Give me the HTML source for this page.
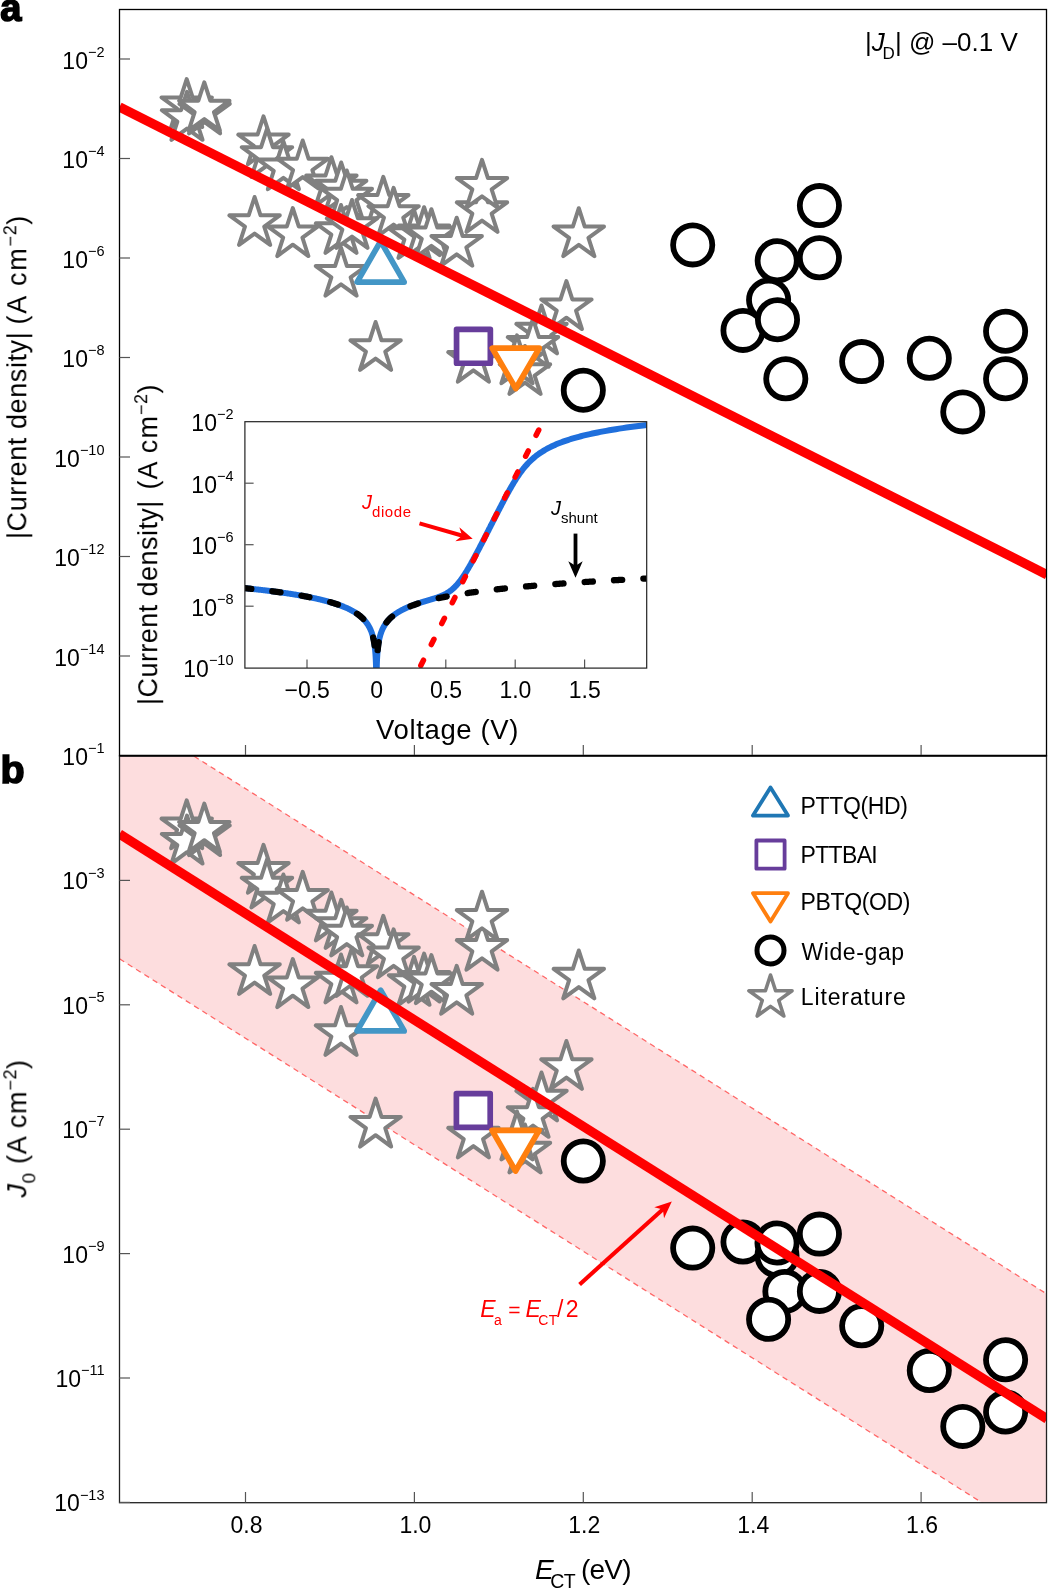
<!DOCTYPE html>
<html><head><meta charset="utf-8"><style>
html,body{margin:0;padding:0;background:#fff;width:1048px;height:1589px;overflow:hidden;}
body{position:relative;font-family:"Liberation Sans", sans-serif;-webkit-font-smoothing:antialiased;}
text{filter:url(#gf);}
</style></head><body>
<svg width="1048" height="1589" viewBox="0 0 1048 1589" style="position:absolute;left:0;top:0;font-family:'Liberation Sans', sans-serif">
<defs><filter id="gf" x="-5%" y="-20%" width="110%" height="140%"><feOffset dx="0" dy="0"/></filter><clipPath id="ca"><rect x="119.5" y="9" width="927.5" height="747"/></clipPath><clipPath id="cb"><rect x="119.5" y="756" width="927.5" height="746.5"/></clipPath><clipPath id="ci"><rect x="245" y="421.7" width="401.7" height="246.4"/></clipPath></defs>
<g clip-path="url(#cb)">
<path d="M119.5,709.20 L1046.6,1293.83 L1046.6,1543.43 L119.5,958.80 Z" fill="#fdddde"/>
<path d="M119.5,709.20 L1046.6,1293.83 M119.5,958.80 L1046.6,1543.43" stroke="#ff6666" stroke-width="1.3" stroke-dasharray="5.5 4.3" fill="none"/>
</g>
<g clip-path="url(#ca)">
<path d="M186.70,79.10 L192.65,97.41 L211.90,97.41 L196.33,108.73 L202.28,127.04 L186.70,115.72 L171.12,127.04 L177.07,108.73 L161.50,97.41 L180.75,97.41 Z" fill="#fff" stroke="#808080" stroke-width="4.0" stroke-linejoin="round"/>
<path d="M187.00,91.90 L192.95,110.21 L212.20,110.21 L196.63,121.53 L202.58,139.84 L187.00,128.52 L171.42,139.84 L177.37,121.53 L161.80,110.21 L181.05,110.21 Z" fill="#fff" stroke="#808080" stroke-width="4.0" stroke-linejoin="round"/>
<path d="M204.60,85.50 L210.55,103.81 L229.80,103.81 L214.23,115.13 L220.18,133.44 L204.60,122.12 L189.02,133.44 L194.97,115.13 L179.40,103.81 L198.65,103.81 Z" fill="#fff" stroke="#808080" stroke-width="4.0" stroke-linejoin="round"/>
<path d="M204.30,82.40 L210.25,100.71 L229.50,100.71 L213.93,112.03 L219.88,130.34 L204.30,119.02 L188.72,130.34 L194.67,112.03 L179.10,100.71 L198.35,100.71 Z" fill="#fff" stroke="#808080" stroke-width="4.0" stroke-linejoin="round"/>
<path d="M263.50,116.30 L269.45,134.61 L288.70,134.61 L273.13,145.93 L279.08,164.24 L263.50,152.92 L247.92,164.24 L253.87,145.93 L238.30,134.61 L257.55,134.61 Z" fill="#fff" stroke="#808080" stroke-width="4.0" stroke-linejoin="round"/>
<path d="M267.00,128.90 L272.95,147.21 L292.20,147.21 L276.63,158.53 L282.58,176.84 L267.00,165.52 L251.42,176.84 L257.37,158.53 L241.80,147.21 L261.05,147.21 Z" fill="#fff" stroke="#808080" stroke-width="4.0" stroke-linejoin="round"/>
<path d="M283.40,141.30 L289.35,159.61 L308.60,159.61 L293.03,170.93 L298.98,189.24 L283.40,177.92 L267.82,189.24 L273.77,170.93 L258.20,159.61 L277.45,159.61 Z" fill="#fff" stroke="#808080" stroke-width="4.0" stroke-linejoin="round"/>
<path d="M302.70,140.50 L308.65,158.81 L327.90,158.81 L312.33,170.13 L318.28,188.44 L302.70,177.12 L287.12,188.44 L293.07,170.13 L277.50,158.81 L296.75,158.81 Z" fill="#fff" stroke="#808080" stroke-width="4.0" stroke-linejoin="round"/>
<path d="M331.40,157.20 L337.35,175.51 L356.60,175.51 L341.03,186.83 L346.98,205.14 L331.40,193.82 L315.82,205.14 L321.77,186.83 L306.20,175.51 L325.45,175.51 Z" fill="#fff" stroke="#808080" stroke-width="4.0" stroke-linejoin="round"/>
<path d="M341.20,162.50 L347.15,180.81 L366.40,180.81 L350.83,192.13 L356.78,210.44 L341.20,199.12 L325.62,210.44 L331.57,192.13 L316.00,180.81 L335.25,180.81 Z" fill="#fff" stroke="#808080" stroke-width="4.0" stroke-linejoin="round"/>
<path d="M346.80,170.50 L352.75,188.81 L372.00,188.81 L356.43,200.13 L362.38,218.44 L346.80,207.12 L331.22,218.44 L337.17,200.13 L321.60,188.81 L340.85,188.81 Z" fill="#fff" stroke="#808080" stroke-width="4.0" stroke-linejoin="round"/>
<path d="M383.30,176.80 L389.25,195.11 L408.50,195.11 L392.93,206.43 L398.88,224.74 L383.30,213.42 L367.72,224.74 L373.67,206.43 L358.10,195.11 L377.35,195.11 Z" fill="#fff" stroke="#808080" stroke-width="4.0" stroke-linejoin="round"/>
<path d="M393.60,187.90 L399.55,206.21 L418.80,206.21 L403.23,217.53 L409.18,235.84 L393.60,224.52 L378.02,235.84 L383.97,217.53 L368.40,206.21 L387.65,206.21 Z" fill="#fff" stroke="#808080" stroke-width="4.0" stroke-linejoin="round"/>
<path d="M414.00,210.00 L419.95,228.31 L439.20,228.31 L423.63,239.63 L429.58,257.94 L414.00,246.62 L398.42,257.94 L404.37,239.63 L388.80,228.31 L408.05,228.31 Z" fill="#fff" stroke="#808080" stroke-width="4.0" stroke-linejoin="round"/>
<path d="M424.10,207.20 L430.05,225.51 L449.30,225.51 L433.73,236.83 L439.68,255.14 L424.10,243.82 L408.52,255.14 L414.47,236.83 L398.90,225.51 L418.15,225.51 Z" fill="#fff" stroke="#808080" stroke-width="4.0" stroke-linejoin="round"/>
<path d="M431.40,209.20 L437.35,227.51 L456.60,227.51 L441.03,238.83 L446.98,257.14 L431.40,245.82 L415.82,257.14 L421.77,238.83 L406.20,227.51 L425.45,227.51 Z" fill="#fff" stroke="#808080" stroke-width="4.0" stroke-linejoin="round"/>
<path d="M456.70,217.70 L462.65,236.01 L481.90,236.01 L466.33,247.33 L472.28,265.64 L456.70,254.32 L441.12,265.64 L447.07,247.33 L431.50,236.01 L450.75,236.01 Z" fill="#fff" stroke="#808080" stroke-width="4.0" stroke-linejoin="round"/>
<path d="M341.00,205.00 L346.95,223.31 L366.20,223.31 L350.63,234.63 L356.58,252.94 L341.00,241.62 L325.42,252.94 L331.37,234.63 L315.80,223.31 L335.05,223.31 Z" fill="#fff" stroke="#808080" stroke-width="4.0" stroke-linejoin="round"/>
<path d="M352.00,200.00 L357.95,218.31 L377.20,218.31 L361.63,229.63 L367.58,247.94 L352.00,236.62 L336.42,247.94 L342.37,229.63 L326.80,218.31 L346.05,218.31 Z" fill="#fff" stroke="#808080" stroke-width="4.0" stroke-linejoin="round"/>
<path d="M254.60,197.00 L260.55,215.31 L279.80,215.31 L264.23,226.63 L270.18,244.94 L254.60,233.62 L239.02,244.94 L244.97,226.63 L229.40,215.31 L248.65,215.31 Z" fill="#fff" stroke="#808080" stroke-width="4.0" stroke-linejoin="round"/>
<path d="M292.80,208.10 L298.75,226.41 L318.00,226.41 L302.43,237.73 L308.38,256.04 L292.80,244.72 L277.22,256.04 L283.17,237.73 L267.60,226.41 L286.85,226.41 Z" fill="#fff" stroke="#808080" stroke-width="4.0" stroke-linejoin="round"/>
<path d="M341.00,247.70 L346.95,266.01 L366.20,266.01 L350.63,277.33 L356.58,295.64 L341.00,284.32 L325.42,295.64 L331.37,277.33 L315.80,266.01 L335.05,266.01 Z" fill="#fff" stroke="#808080" stroke-width="4.0" stroke-linejoin="round"/>
<path d="M375.60,322.00 L381.55,340.31 L400.80,340.31 L385.23,351.63 L391.18,369.94 L375.60,358.62 L360.02,369.94 L365.97,351.63 L350.40,340.31 L369.65,340.31 Z" fill="#fff" stroke="#808080" stroke-width="4.0" stroke-linejoin="round"/>
<path d="M482.00,184.00 L487.95,202.31 L507.20,202.31 L491.63,213.63 L497.58,231.94 L482.00,220.62 L466.42,231.94 L472.37,213.63 L456.80,202.31 L476.05,202.31 Z" fill="#fff" stroke="#808080" stroke-width="4.0" stroke-linejoin="round"/>
<path d="M482.00,159.80 L487.95,178.11 L507.20,178.11 L491.63,189.43 L497.58,207.74 L482.00,196.42 L466.42,207.74 L472.37,189.43 L456.80,178.11 L476.05,178.11 Z" fill="#fff" stroke="#808080" stroke-width="4.0" stroke-linejoin="round"/>
<path d="M578.80,208.20 L584.75,226.51 L604.00,226.51 L588.43,237.83 L594.38,256.14 L578.80,244.82 L563.22,256.14 L569.17,237.83 L553.60,226.51 L572.85,226.51 Z" fill="#fff" stroke="#808080" stroke-width="4.0" stroke-linejoin="round"/>
<path d="M566.40,281.10 L572.35,299.41 L591.60,299.41 L576.03,310.73 L581.98,329.04 L566.40,317.72 L550.82,329.04 L556.77,310.73 L541.20,299.41 L560.45,299.41 Z" fill="#fff" stroke="#808080" stroke-width="4.0" stroke-linejoin="round"/>
<path d="M541.50,305.50 L547.45,323.81 L566.70,323.81 L551.13,335.13 L557.08,353.44 L541.50,342.12 L525.92,353.44 L531.87,335.13 L516.30,323.81 L535.55,323.81 Z" fill="#fff" stroke="#808080" stroke-width="4.0" stroke-linejoin="round"/>
<path d="M533.00,318.80 L538.95,337.11 L558.20,337.11 L542.63,348.43 L548.58,366.74 L533.00,355.42 L517.42,366.74 L523.37,348.43 L507.80,337.11 L527.05,337.11 Z" fill="#fff" stroke="#808080" stroke-width="4.0" stroke-linejoin="round"/>
<path d="M525.00,346.00 L530.95,364.31 L550.20,364.31 L534.63,375.63 L540.58,393.94 L525.00,382.62 L509.42,393.94 L515.37,375.63 L499.80,364.31 L519.05,364.31 Z" fill="#fff" stroke="#808080" stroke-width="4.0" stroke-linejoin="round"/>
<path d="M517.00,335.30 L522.95,353.61 L542.20,353.61 L526.63,364.93 L532.58,383.24 L517.00,371.92 L501.42,383.24 L507.37,364.93 L491.80,353.61 L511.05,353.61 Z" fill="#fff" stroke="#808080" stroke-width="4.0" stroke-linejoin="round"/>
<path d="M473.40,333.80 L479.35,352.11 L498.60,352.11 L483.03,363.43 L488.98,381.74 L473.40,370.42 L457.82,381.74 L463.77,363.43 L448.20,352.11 L467.45,352.11 Z" fill="#fff" stroke="#808080" stroke-width="4.0" stroke-linejoin="round"/>
<circle cx="692.70" cy="244.90" r="19.6" fill="#fff" stroke="#000" stroke-width="5.8"/>
<circle cx="819.40" cy="205.60" r="19.6" fill="#fff" stroke="#000" stroke-width="5.8"/>
<circle cx="819.40" cy="257.80" r="19.6" fill="#fff" stroke="#000" stroke-width="5.8"/>
<circle cx="777.20" cy="260.80" r="19.6" fill="#fff" stroke="#000" stroke-width="5.8"/>
<circle cx="768.60" cy="300.10" r="19.6" fill="#fff" stroke="#000" stroke-width="5.8"/>
<circle cx="743.00" cy="330.40" r="19.6" fill="#fff" stroke="#000" stroke-width="5.8"/>
<circle cx="777.50" cy="319.70" r="19.6" fill="#fff" stroke="#000" stroke-width="5.8"/>
<circle cx="785.80" cy="378.80" r="19.6" fill="#fff" stroke="#000" stroke-width="5.8"/>
<circle cx="861.70" cy="361.60" r="19.6" fill="#fff" stroke="#000" stroke-width="5.8"/>
<circle cx="929.30" cy="358.30" r="19.6" fill="#fff" stroke="#000" stroke-width="5.8"/>
<circle cx="1005.60" cy="331.30" r="19.6" fill="#fff" stroke="#000" stroke-width="5.8"/>
<circle cx="1005.60" cy="378.80" r="19.6" fill="#fff" stroke="#000" stroke-width="5.8"/>
<circle cx="962.80" cy="411.90" r="19.6" fill="#fff" stroke="#000" stroke-width="5.8"/>
<circle cx="583.30" cy="390.20" r="19.6" fill="#fff" stroke="#000" stroke-width="5.8"/>
<path d="M357.10,282.05 L404.20,282.05 L380.65,241.25 Z" fill="#fff" stroke="#4396c6" stroke-width="5.7" stroke-linejoin="round"/>
<rect x="456.55" y="329.45" width="33.80" height="33.80" fill="#fff" stroke="#673d9b" stroke-width="5.7" stroke-linejoin="round"/>
<path d="M492.25,348.20 L539.25,348.20 L515.75,388.50 Z" fill="#fff" stroke="#ff7f0e" stroke-width="5.7" stroke-linejoin="round"/>
<line x1="119.5" y1="107" x2="1047" y2="574.70" stroke="#ff0000" stroke-width="9.45"/>
</g>
<g clip-path="url(#cb)">
<path d="M186.70,800.30 L192.65,818.61 L211.90,818.61 L196.33,829.93 L202.28,848.24 L186.70,836.92 L171.12,848.24 L177.07,829.93 L161.50,818.61 L180.75,818.61 Z" fill="#fff" stroke="#808080" stroke-width="4.0" stroke-linejoin="round"/>
<path d="M187.00,815.60 L192.95,833.91 L212.20,833.91 L196.63,845.23 L202.58,863.54 L187.00,852.22 L171.42,863.54 L177.37,845.23 L161.80,833.91 L181.05,833.91 Z" fill="#fff" stroke="#808080" stroke-width="4.0" stroke-linejoin="round"/>
<path d="M204.60,807.10 L210.55,825.41 L229.80,825.41 L214.23,836.73 L220.18,855.04 L204.60,843.72 L189.02,855.04 L194.97,836.73 L179.40,825.41 L198.65,825.41 Z" fill="#fff" stroke="#808080" stroke-width="4.0" stroke-linejoin="round"/>
<path d="M204.30,803.60 L210.25,821.91 L229.50,821.91 L213.93,833.23 L219.88,851.54 L204.30,840.22 L188.72,851.54 L194.67,833.23 L179.10,821.91 L198.35,821.91 Z" fill="#fff" stroke="#808080" stroke-width="4.0" stroke-linejoin="round"/>
<path d="M263.50,844.80 L269.45,863.11 L288.70,863.11 L273.13,874.43 L279.08,892.74 L263.50,881.42 L247.92,892.74 L253.87,874.43 L238.30,863.11 L257.55,863.11 Z" fill="#fff" stroke="#808080" stroke-width="4.0" stroke-linejoin="round"/>
<path d="M267.00,859.50 L272.95,877.81 L292.20,877.81 L276.63,889.13 L282.58,907.44 L267.00,896.12 L251.42,907.44 L257.37,889.13 L241.80,877.81 L261.05,877.81 Z" fill="#fff" stroke="#808080" stroke-width="4.0" stroke-linejoin="round"/>
<path d="M283.40,874.50 L289.35,892.81 L308.60,892.81 L293.03,904.13 L298.98,922.44 L283.40,911.12 L267.82,922.44 L273.77,904.13 L258.20,892.81 L277.45,892.81 Z" fill="#fff" stroke="#808080" stroke-width="4.0" stroke-linejoin="round"/>
<path d="M302.70,871.80 L308.65,890.11 L327.90,890.11 L312.33,901.43 L318.28,919.74 L302.70,908.42 L287.12,919.74 L293.07,901.43 L277.50,890.11 L296.75,890.11 Z" fill="#fff" stroke="#808080" stroke-width="4.0" stroke-linejoin="round"/>
<path d="M331.40,892.50 L337.35,910.81 L356.60,910.81 L341.03,922.13 L346.98,940.44 L331.40,929.12 L315.82,940.44 L321.77,922.13 L306.20,910.81 L325.45,910.81 Z" fill="#fff" stroke="#808080" stroke-width="4.0" stroke-linejoin="round"/>
<path d="M341.20,899.90 L347.15,918.21 L366.40,918.21 L350.83,929.53 L356.78,947.84 L341.20,936.52 L325.62,947.84 L331.57,929.53 L316.00,918.21 L335.25,918.21 Z" fill="#fff" stroke="#808080" stroke-width="4.0" stroke-linejoin="round"/>
<path d="M346.80,907.50 L352.75,925.81 L372.00,925.81 L356.43,937.13 L362.38,955.44 L346.80,944.12 L331.22,955.44 L337.17,937.13 L321.60,925.81 L340.85,925.81 Z" fill="#fff" stroke="#808080" stroke-width="4.0" stroke-linejoin="round"/>
<path d="M383.30,915.90 L389.25,934.21 L408.50,934.21 L392.93,945.53 L398.88,963.84 L383.30,952.52 L367.72,963.84 L373.67,945.53 L358.10,934.21 L377.35,934.21 Z" fill="#fff" stroke="#808080" stroke-width="4.0" stroke-linejoin="round"/>
<path d="M393.60,929.30 L399.55,947.61 L418.80,947.61 L403.23,958.93 L409.18,977.24 L393.60,965.92 L378.02,977.24 L383.97,958.93 L368.40,947.61 L387.65,947.61 Z" fill="#fff" stroke="#808080" stroke-width="4.0" stroke-linejoin="round"/>
<path d="M414.00,956.90 L419.95,975.21 L439.20,975.21 L423.63,986.53 L429.58,1004.84 L414.00,993.52 L398.42,1004.84 L404.37,986.53 L388.80,975.21 L408.05,975.21 Z" fill="#fff" stroke="#808080" stroke-width="4.0" stroke-linejoin="round"/>
<path d="M424.10,953.60 L430.05,971.91 L449.30,971.91 L433.73,983.23 L439.68,1001.54 L424.10,990.22 L408.52,1001.54 L414.47,983.23 L398.90,971.91 L418.15,971.91 Z" fill="#fff" stroke="#808080" stroke-width="4.0" stroke-linejoin="round"/>
<path d="M431.40,955.10 L437.35,973.41 L456.60,973.41 L441.03,984.73 L446.98,1003.04 L431.40,991.72 L415.82,1003.04 L421.77,984.73 L406.20,973.41 L425.45,973.41 Z" fill="#fff" stroke="#808080" stroke-width="4.0" stroke-linejoin="round"/>
<path d="M456.70,965.80 L462.65,984.11 L481.90,984.11 L466.33,995.43 L472.28,1013.74 L456.70,1002.42 L441.12,1013.74 L447.07,995.43 L431.50,984.11 L450.75,984.11 Z" fill="#fff" stroke="#808080" stroke-width="4.0" stroke-linejoin="round"/>
<path d="M341.00,954.50 L346.95,972.81 L366.20,972.81 L350.63,984.13 L356.58,1002.44 L341.00,991.12 L325.42,1002.44 L331.37,984.13 L315.80,972.81 L335.05,972.81 Z" fill="#fff" stroke="#808080" stroke-width="4.0" stroke-linejoin="round"/>
<path d="M352.00,947.88 L357.95,966.19 L377.20,966.19 L361.63,977.50 L367.58,995.81 L352.00,984.50 L336.42,995.81 L342.37,977.50 L326.80,966.19 L346.05,966.19 Z" fill="#fff" stroke="#808080" stroke-width="4.0" stroke-linejoin="round"/>
<path d="M254.60,946.00 L260.55,964.31 L279.80,964.31 L264.23,975.63 L270.18,993.94 L254.60,982.62 L239.02,993.94 L244.97,975.63 L229.40,964.31 L248.65,964.31 Z" fill="#fff" stroke="#808080" stroke-width="4.0" stroke-linejoin="round"/>
<path d="M292.80,959.10 L298.75,977.41 L318.00,977.41 L302.43,988.73 L308.38,1007.04 L292.80,995.72 L277.22,1007.04 L283.17,988.73 L267.60,977.41 L286.85,977.41 Z" fill="#fff" stroke="#808080" stroke-width="4.0" stroke-linejoin="round"/>
<path d="M341.00,1007.00 L346.95,1025.31 L366.20,1025.31 L350.63,1036.63 L356.58,1054.94 L341.00,1043.62 L325.42,1054.94 L331.37,1036.63 L315.80,1025.31 L335.05,1025.31 Z" fill="#fff" stroke="#808080" stroke-width="4.0" stroke-linejoin="round"/>
<path d="M375.60,1098.60 L381.55,1116.91 L400.80,1116.91 L385.23,1128.23 L391.18,1146.54 L375.60,1135.22 L360.02,1146.54 L365.97,1128.23 L350.40,1116.91 L369.65,1116.91 Z" fill="#fff" stroke="#808080" stroke-width="4.0" stroke-linejoin="round"/>
<path d="M482.00,921.80 L487.95,940.11 L507.20,940.11 L491.63,951.43 L497.58,969.74 L482.00,958.42 L466.42,969.74 L472.37,951.43 L456.80,940.11 L476.05,940.11 Z" fill="#fff" stroke="#808080" stroke-width="4.0" stroke-linejoin="round"/>
<path d="M482.00,891.70 L487.95,910.01 L507.20,910.01 L491.63,921.33 L497.58,939.64 L482.00,928.32 L466.42,939.64 L472.37,921.33 L456.80,910.01 L476.05,910.01 Z" fill="#fff" stroke="#808080" stroke-width="4.0" stroke-linejoin="round"/>
<path d="M578.80,950.50 L584.75,968.81 L604.00,968.81 L588.43,980.13 L594.38,998.44 L578.80,987.12 L563.22,998.44 L569.17,980.13 L553.60,968.81 L572.85,968.81 Z" fill="#fff" stroke="#808080" stroke-width="4.0" stroke-linejoin="round"/>
<path d="M566.40,1041.00 L572.35,1059.31 L591.60,1059.31 L576.03,1070.63 L581.98,1088.94 L566.40,1077.62 L550.82,1088.94 L556.77,1070.63 L541.20,1059.31 L560.45,1059.31 Z" fill="#fff" stroke="#808080" stroke-width="4.0" stroke-linejoin="round"/>
<path d="M541.50,1072.50 L547.45,1090.81 L566.70,1090.81 L551.13,1102.13 L557.08,1120.44 L541.50,1109.12 L525.92,1120.44 L531.87,1102.13 L516.30,1090.81 L535.55,1090.81 Z" fill="#fff" stroke="#808080" stroke-width="4.0" stroke-linejoin="round"/>
<path d="M533.00,1088.90 L538.95,1107.21 L558.20,1107.21 L542.63,1118.53 L548.58,1136.84 L533.00,1125.52 L517.42,1136.84 L523.37,1118.53 L507.80,1107.21 L527.05,1107.21 Z" fill="#fff" stroke="#808080" stroke-width="4.0" stroke-linejoin="round"/>
<path d="M525.00,1124.50 L530.95,1142.81 L550.20,1142.81 L534.63,1154.13 L540.58,1172.44 L525.00,1161.12 L509.42,1172.44 L515.37,1154.13 L499.80,1142.81 L519.05,1142.81 Z" fill="#fff" stroke="#808080" stroke-width="4.0" stroke-linejoin="round"/>
<path d="M517.00,1111.50 L522.95,1129.81 L542.20,1129.81 L526.63,1141.13 L532.58,1159.44 L517.00,1148.12 L501.42,1159.44 L507.37,1141.13 L491.80,1129.81 L511.05,1129.81 Z" fill="#fff" stroke="#808080" stroke-width="4.0" stroke-linejoin="round"/>
<path d="M473.40,1109.50 L479.35,1127.81 L498.60,1127.81 L483.03,1139.13 L488.98,1157.44 L473.40,1146.12 L457.82,1157.44 L463.77,1139.13 L448.20,1127.81 L467.45,1127.81 Z" fill="#fff" stroke="#808080" stroke-width="4.0" stroke-linejoin="round"/>
<circle cx="583.30" cy="1161.00" r="19.6" fill="#fff" stroke="#000" stroke-width="5.8"/>
<circle cx="692.70" cy="1248.10" r="19.6" fill="#fff" stroke="#000" stroke-width="5.8"/>
<circle cx="743.00" cy="1242.00" r="19.6" fill="#fff" stroke="#000" stroke-width="5.8"/>
<circle cx="777.00" cy="1255.70" r="19.6" fill="#fff" stroke="#000" stroke-width="5.8"/>
<circle cx="777.00" cy="1243.00" r="19.6" fill="#fff" stroke="#000" stroke-width="5.8"/>
<circle cx="819.40" cy="1234.10" r="19.6" fill="#fff" stroke="#000" stroke-width="5.8"/>
<circle cx="784.90" cy="1291.40" r="19.6" fill="#fff" stroke="#000" stroke-width="5.8"/>
<circle cx="819.40" cy="1291.40" r="19.6" fill="#fff" stroke="#000" stroke-width="5.8"/>
<circle cx="768.60" cy="1319.30" r="19.6" fill="#fff" stroke="#000" stroke-width="5.8"/>
<circle cx="861.70" cy="1325.80" r="19.6" fill="#fff" stroke="#000" stroke-width="5.8"/>
<circle cx="929.30" cy="1370.50" r="19.6" fill="#fff" stroke="#000" stroke-width="5.8"/>
<circle cx="1005.60" cy="1359.80" r="19.6" fill="#fff" stroke="#000" stroke-width="5.8"/>
<circle cx="1005.60" cy="1412.00" r="19.6" fill="#fff" stroke="#000" stroke-width="5.8"/>
<circle cx="962.80" cy="1426.40" r="19.6" fill="#fff" stroke="#000" stroke-width="5.8"/>
<path d="M357.10,1030.95 L404.20,1030.95 L380.65,990.15 Z" fill="#fff" stroke="#4396c6" stroke-width="5.7" stroke-linejoin="round"/>
<rect x="456.40" y="1093.60" width="33.80" height="33.80" fill="#fff" stroke="#673d9b" stroke-width="5.7" stroke-linejoin="round"/>
<path d="M492.05,1130.30 L539.05,1130.30 L515.55,1171.00 Z" fill="#fff" stroke="#ff7f0e" stroke-width="5.7" stroke-linejoin="round"/>
<line x1="119.5" y1="834" x2="1047" y2="1418.88" stroke="#ff0000" stroke-width="9.45"/>
</g>
<rect x="119.5" y="9.5" width="927" height="746.3" fill="none" stroke="#000" stroke-width="1.3"/>
<rect x="119.5" y="755.8" width="927" height="746.9" fill="none" stroke="#222" stroke-width="1.3"/>
<line x1="119" y1="755.6" x2="1047" y2="755.6" stroke="#000" stroke-width="1.8"/>
<line x1="119.5" y1="59.00" x2="130" y2="59.00" stroke="#555" stroke-width="1.2"/>
<text x="104.5" y="68.70" font-size="23" text-anchor="end">10<tspan dy="-11.9" font-size="14.5">−2</tspan></text>
<line x1="119.5" y1="158.50" x2="130" y2="158.50" stroke="#555" stroke-width="1.2"/>
<text x="104.5" y="168.20" font-size="23" text-anchor="end">10<tspan dy="-11.9" font-size="14.5">−4</tspan></text>
<line x1="119.5" y1="258.00" x2="130" y2="258.00" stroke="#555" stroke-width="1.2"/>
<text x="104.5" y="267.70" font-size="23" text-anchor="end">10<tspan dy="-11.9" font-size="14.5">−6</tspan></text>
<line x1="119.5" y1="357.50" x2="130" y2="357.50" stroke="#555" stroke-width="1.2"/>
<text x="104.5" y="367.20" font-size="23" text-anchor="end">10<tspan dy="-11.9" font-size="14.5">−8</tspan></text>
<line x1="119.5" y1="457.00" x2="130" y2="457.00" stroke="#555" stroke-width="1.2"/>
<text x="104.5" y="466.70" font-size="23" text-anchor="end">10<tspan dy="-11.9" font-size="14.5">−10</tspan></text>
<line x1="119.5" y1="556.50" x2="130" y2="556.50" stroke="#555" stroke-width="1.2"/>
<text x="104.5" y="566.20" font-size="23" text-anchor="end">10<tspan dy="-11.9" font-size="14.5">−12</tspan></text>
<line x1="119.5" y1="656.00" x2="130" y2="656.00" stroke="#555" stroke-width="1.2"/>
<text x="104.5" y="665.70" font-size="23" text-anchor="end">10<tspan dy="-11.9" font-size="14.5">−14</tspan></text>
<text x="104.5" y="765.00" font-size="23" text-anchor="end">10<tspan dy="-11.9" font-size="14.5">−1</tspan></text>
<line x1="119.5" y1="880.40" x2="130" y2="880.40" stroke="#555" stroke-width="1.2"/>
<text x="104.5" y="889.40" font-size="23" text-anchor="end">10<tspan dy="-11.9" font-size="14.5">−3</tspan></text>
<line x1="119.5" y1="1004.80" x2="130" y2="1004.80" stroke="#555" stroke-width="1.2"/>
<text x="104.5" y="1013.80" font-size="23" text-anchor="end">10<tspan dy="-11.9" font-size="14.5">−5</tspan></text>
<line x1="119.5" y1="1129.20" x2="130" y2="1129.20" stroke="#555" stroke-width="1.2"/>
<text x="104.5" y="1138.20" font-size="23" text-anchor="end">10<tspan dy="-11.9" font-size="14.5">−7</tspan></text>
<line x1="119.5" y1="1253.60" x2="130" y2="1253.60" stroke="#555" stroke-width="1.2"/>
<text x="104.5" y="1262.60" font-size="23" text-anchor="end">10<tspan dy="-11.9" font-size="14.5">−9</tspan></text>
<line x1="119.5" y1="1378.00" x2="130" y2="1378.00" stroke="#555" stroke-width="1.2"/>
<text x="104.5" y="1387.00" font-size="23" text-anchor="end">10<tspan dy="-11.9" font-size="14.5">−11</tspan></text>
<line x1="119.5" y1="1502.40" x2="130" y2="1502.40" stroke="#555" stroke-width="1.2"/>
<text x="104.5" y="1511.40" font-size="23" text-anchor="end">10<tspan dy="-11.9" font-size="14.5">−13</tspan></text>
<line x1="245.50" y1="1502.5" x2="245.50" y2="1492" stroke="#555" stroke-width="1.2"/>
<line x1="245.50" y1="755" x2="245.50" y2="745" stroke="#555" stroke-width="1.2"/>
<text x="246.50" y="1533.3" font-size="23" text-anchor="middle" >0.8</text>
<line x1="414.40" y1="1502.5" x2="414.40" y2="1492" stroke="#555" stroke-width="1.2"/>
<line x1="414.40" y1="755" x2="414.40" y2="745" stroke="#555" stroke-width="1.2"/>
<text x="415.40" y="1533.3" font-size="23" text-anchor="middle" >1.0</text>
<line x1="583.30" y1="1502.5" x2="583.30" y2="1492" stroke="#555" stroke-width="1.2"/>
<line x1="583.30" y1="755" x2="583.30" y2="745" stroke="#555" stroke-width="1.2"/>
<text x="584.30" y="1533.3" font-size="23" text-anchor="middle" >1.2</text>
<line x1="752.20" y1="1502.5" x2="752.20" y2="1492" stroke="#555" stroke-width="1.2"/>
<line x1="752.20" y1="755" x2="752.20" y2="745" stroke="#555" stroke-width="1.2"/>
<text x="753.20" y="1533.3" font-size="23" text-anchor="middle" >1.4</text>
<line x1="921.10" y1="1502.5" x2="921.10" y2="1492" stroke="#555" stroke-width="1.2"/>
<line x1="921.10" y1="755" x2="921.10" y2="745" stroke="#555" stroke-width="1.2"/>
<text x="922.10" y="1533.3" font-size="23" text-anchor="middle" >1.6</text>
<text transform="translate(26.3,539) rotate(-90)" font-size="27" letter-spacing="0.6">|Current density|<tspan x="214.5" letter-spacing="1.8">(A cm</tspan><tspan dy="-10" font-size="18">−2</tspan><tspan dy="10">)</tspan></text>
<text transform="translate(26.3,1197.5) rotate(-90)" font-size="27" letter-spacing="0.5"><tspan font-style="italic">J</tspan><tspan dy="8.5" font-size="19">0</tspan><tspan dy="-8.5" letter-spacing="0.9"> (A cm</tspan><tspan dy="-10" font-size="18">−2</tspan><tspan dy="10">)</tspan></text>
<text x="535" y="1579.4" font-size="28"><tspan font-style="italic">E</tspan><tspan x="550.3" dy="8.6" font-size="19.5" letter-spacing="-0.6">CT</tspan><tspan x="581" dy="-8.6" letter-spacing="-0.8">(eV)</tspan></text>
<text x="865" y="51" font-size="26">|<tspan font-style="italic">J</tspan><tspan x="882.6" dy="7.5" font-size="17">D</tspan><tspan x="895" dy="-7.5">| @ –0.1 V</tspan></text>
<text x="0.3" y="21.2" font-size="38" font-weight="bold" stroke="#000" stroke-width="1.6">a</text>
<text x="0.6" y="782.8" font-size="39.5" font-weight="bold" stroke="#000" stroke-width="1.6">b</text>
<rect x="244.9" y="421.7" width="401.8" height="246.4" fill="#fff" stroke="none"/>
<line x1="307.00" y1="668.1" x2="307.00" y2="659.4" stroke="#555" stroke-width="1.2"/>
<line x1="376.40" y1="668.1" x2="376.40" y2="659.4" stroke="#555" stroke-width="1.2"/>
<line x1="445.80" y1="668.1" x2="445.80" y2="659.4" stroke="#555" stroke-width="1.2"/>
<line x1="515.20" y1="668.1" x2="515.20" y2="659.4" stroke="#555" stroke-width="1.2"/>
<line x1="584.60" y1="668.1" x2="584.60" y2="659.4" stroke="#555" stroke-width="1.2"/>
<g clip-path="url(#ci)">
<path d="M243.15,587.99 L243.81,588.05 L244.46,588.12 L245.12,588.19 L245.77,588.25 L246.43,588.32 L247.09,588.39 L247.74,588.46 L248.40,588.52 L249.05,588.59 L249.71,588.66 L250.36,588.73 L251.02,588.80 L251.68,588.87 L252.33,588.94 L252.99,589.01 L253.64,589.08 L254.30,589.15 L254.95,589.23 L255.61,589.30 L256.26,589.37 L256.92,589.44 L257.58,589.52 L258.23,589.59 L258.89,589.67 L259.54,589.74 L260.20,589.82 L260.85,589.89 L261.51,589.97 L262.17,590.04 L262.82,590.12 L263.48,590.20 L264.13,590.28 L264.79,590.35 L265.44,590.43 L266.10,590.51 L266.75,590.59 L267.41,590.67 L268.07,590.75 L268.72,590.83 L269.38,590.91 L270.03,591.00 L270.69,591.08 L271.34,591.16 L272.00,591.25 L272.66,591.33 L273.31,591.41 L273.97,591.50 L274.62,591.59 L275.28,591.67 L275.93,591.76 L276.59,591.85 L277.25,591.93 L277.90,592.02 L278.56,592.11 L279.21,592.20 L279.87,592.29 L280.52,592.38 L281.18,592.47 L281.83,592.57 L282.49,592.66 L283.15,592.75 L283.80,592.85 L284.46,592.94 L285.11,593.04 L285.77,593.13 L286.42,593.23 L287.08,593.33 L287.74,593.43 L288.39,593.53 L289.05,593.63 L289.70,593.73 L290.36,593.83 L291.01,593.93 L291.67,594.03 L292.32,594.14 L292.98,594.24 L293.64,594.35 L294.29,594.45 L294.95,594.56 L295.60,594.67 L296.26,594.78 L296.91,594.89 L297.57,595.00 L298.23,595.11 L298.88,595.22 L299.54,595.34 L300.19,595.45 L300.85,595.56 L301.50,595.68 L302.16,595.80 L302.82,595.92 L303.47,596.04 L304.13,596.16 L304.78,596.28 L305.44,596.40 L306.09,596.53 L306.75,596.65 L307.40,596.78 L308.06,596.90 L308.72,597.03 L309.37,597.16 L310.03,597.29 L310.68,597.43 L311.34,597.56 L311.99,597.70 L312.65,597.83 L313.31,597.97 L313.96,598.11 L314.62,598.25 L315.27,598.39 L315.93,598.54 L316.58,598.68 L317.24,598.83 L317.89,598.98 L318.55,599.13 L319.21,599.28 L319.86,599.44 L320.52,599.59 L321.17,599.75 L321.83,599.91 L322.48,600.07 L323.14,600.23 L323.80,600.40 L324.45,600.57 L325.11,600.74 L325.76,600.91 L326.42,601.08 L327.07,601.26 L327.73,601.44 L328.38,601.62 L329.04,601.80 L329.70,601.99 L330.35,602.18 L331.01,602.37 L331.66,602.56 L332.32,602.76 L332.97,602.96 L333.63,603.16 L334.29,603.37 L334.94,603.58 L335.60,603.79 L336.25,604.01 L336.91,604.23 L337.56,604.45 L338.22,604.68 L338.88,604.91 L339.53,605.15 L340.19,605.39 L340.84,605.63 L341.50,605.88 L342.15,606.13 L342.81,606.39 L343.46,606.65 L344.12,606.92 L344.78,607.20 L345.43,607.48 L346.09,607.76 L346.74,608.05 L347.40,608.35 L348.05,608.66 L348.71,608.97 L349.37,609.29 L350.02,609.62 L350.68,609.95 L351.33,610.30 L351.99,610.65 L352.64,611.02 L353.30,611.39 L353.95,611.77 L354.61,612.17 L355.27,612.58 L355.92,613.00 L356.58,613.43 L357.23,613.88 L357.89,614.35 L358.54,614.83 L359.20,615.33 L359.86,615.85 L360.51,616.39 L361.17,616.95 L361.82,617.54 L362.48,618.15 L363.13,618.80 L363.79,619.47 L364.45,620.19 L365.10,620.94 L365.76,621.74 L366.41,622.59 L367.07,623.49 L367.72,624.47 L368.38,625.52 L369.03,626.65 L369.69,627.90 L370.35,629.27 L371.00,630.80 L371.66,632.53 L372.31,634.52 L372.97,636.85 L373.62,639.69 L373.62,639.69 L373.67,639.91 L373.72,640.13 L373.76,640.36 L373.81,640.60 L373.85,640.84 L373.90,641.08 L373.95,641.33 L373.99,641.58 L374.04,641.84 L374.08,642.10 L374.13,642.37 L374.17,642.64 L374.22,642.92 L374.27,643.20 L374.31,643.49 L374.36,643.79 L374.40,644.09 L374.45,644.40 L374.50,644.72 L374.54,645.04 L374.59,645.38 L374.63,645.72 L374.68,646.07 L374.72,646.43 L374.77,646.80 L374.82,647.18 L374.86,647.58 L374.91,647.98 L374.95,648.40 L375.00,648.83 L375.05,649.27 L375.09,649.74 L375.14,650.21 L375.18,650.71 L375.23,651.22 L375.28,651.75 L375.32,652.31 L375.37,652.89 L375.41,653.50 L375.46,654.13 L375.50,654.80 L375.55,655.50 L375.60,656.24 L375.64,657.03 L375.69,657.86 L375.73,658.75 L375.78,659.71 L375.83,660.73 L375.87,661.85 L375.92,663.06 L375.96,664.39 L376.01,665.88 L376.06,667.55 L376.10,669.45 L376.15,671.68 L376.19,674.35 L376.24,677.70 L376.28,682.17 L376.33,688.95 L376.4,790.7 L376.47,688.95 L376.52,682.17 L376.56,677.70 L376.61,674.35 L376.65,671.68 L376.70,669.45 L376.74,667.55 L376.79,665.88 L376.84,664.39 L376.88,663.06 L376.93,661.85 L376.97,660.73 L377.02,659.71 L377.07,658.75 L377.11,657.86 L377.16,657.03 L377.20,656.24 L377.25,655.50 L377.30,654.80 L377.34,654.13 L377.39,653.50 L377.43,652.89 L377.48,652.31 L377.52,651.75 L377.57,651.22 L377.62,650.71 L377.66,650.21 L377.71,649.73 L377.75,649.27 L377.80,648.83 L377.85,648.40 L377.89,647.98 L377.94,647.58 L377.98,647.18 L378.03,646.80 L378.08,646.43 L378.12,646.07 L378.17,645.72 L378.21,645.38 L378.26,645.04 L378.30,644.72 L378.35,644.40 L378.40,644.09 L378.44,643.79 L378.49,643.49 L378.53,643.20 L378.58,642.91 L378.63,642.64 L378.67,642.36 L378.72,642.10 L378.76,641.83 L378.81,641.58 L378.85,641.33 L378.90,641.08 L378.95,640.84 L378.99,640.60 L379.04,640.36 L379.08,640.13 L379.13,639.91 L379.18,639.68 L379.18,639.68 L379.45,638.44 L379.72,637.30 L379.99,636.25 L380.26,635.28 L380.53,634.37 L380.80,633.53 L381.07,632.73 L381.34,631.97 L381.62,631.26 L381.89,630.58 L382.16,629.94 L382.43,629.33 L382.70,628.74 L382.97,628.18 L383.24,627.64 L383.51,627.12 L383.78,626.62 L384.06,626.14 L384.33,625.67 L384.60,625.22 L384.87,624.79 L385.14,624.37 L385.41,623.96 L385.68,623.56 L385.95,623.18 L386.22,622.80 L386.50,622.44 L386.77,622.09 L387.04,621.74 L387.31,621.41 L387.58,621.08 L387.85,620.76 L388.12,620.45 L388.39,620.14 L388.66,619.84 L388.94,619.55 L389.21,619.26 L389.48,618.98 L389.75,618.71 L390.02,618.44 L390.29,618.18 L390.56,617.92 L390.83,617.67 L391.10,617.42 L391.38,617.17 L391.65,616.93 L391.92,616.70 L392.19,616.47 L392.46,616.24 L392.73,616.02 L393.00,615.80 L393.27,615.58 L393.54,615.37 L393.82,615.16 L394.09,614.95 L394.36,614.75 L394.63,614.55 L394.90,614.35 L395.17,614.15 L395.44,613.96 L395.71,613.77 L395.98,613.59 L396.26,613.40 L396.53,613.22 L396.80,613.04 L397.07,612.87 L397.34,612.69 L397.61,612.52 L397.88,612.35 L398.15,612.18 L398.42,612.02 L398.70,611.85 L398.97,611.69 L399.24,611.53 L399.51,611.38 L399.78,611.22 L400.05,611.06 L400.32,610.91 L400.59,610.76 L400.86,610.61 L401.14,610.46 L401.41,610.32 L401.68,610.17 L401.95,610.03 L402.22,609.89 L402.49,609.75 L402.76,609.61 L403.03,609.48 L403.30,609.34 L403.58,609.20 L403.85,609.07 L404.12,608.94 L404.39,608.81 L404.66,608.68 L404.93,608.55 L405.20,608.43 L405.47,608.30 L405.74,608.18 L406.02,608.05 L406.29,607.93 L406.56,607.81 L406.83,607.69 L407.10,607.57 L407.37,607.45 L407.64,607.33 L407.91,607.22 L408.18,607.10 L408.46,606.99 L408.73,606.87 L409.00,606.76 L409.27,606.65 L409.54,606.54 L409.81,606.43 L410.08,606.32 L410.35,606.21 L410.62,606.11 L410.90,606.00 L411.17,605.89 L411.44,605.79 L411.71,605.68 L411.98,605.58 L412.25,605.48 L412.52,605.38 L412.79,605.28 L413.06,605.17 L413.34,605.07 L413.61,604.98 L413.88,604.88 L414.15,604.78 L414.42,604.68 L414.69,604.58 L414.96,604.49 L415.23,604.39 L415.50,604.30 L415.78,604.20 L416.05,604.11 L416.32,604.02 L416.59,603.92 L416.86,603.83 L417.13,603.74 L417.40,603.65 L417.67,603.56 L417.94,603.47 L418.22,603.38 L418.49,603.29 L418.76,603.20 L419.03,603.11 L419.30,603.02 L419.57,602.94 L419.84,602.85 L420.11,602.76 L420.39,602.68 L420.66,602.59 L420.93,602.50 L421.20,602.42 L421.47,602.33 L421.74,602.25 L422.01,602.16 L422.28,602.08 L422.55,602.00 L422.83,601.91 L423.10,601.83 L423.37,601.75 L423.64,601.66 L423.91,601.58 L424.18,601.50 L424.45,601.42 L424.72,601.34 L424.99,601.25 L425.27,601.17 L425.54,601.09 L425.81,601.01 L426.08,600.93 L426.35,600.85 L426.62,600.77 L426.89,600.69 L427.16,600.60 L427.43,600.52 L427.71,600.44 L427.98,600.36 L428.25,600.28 L428.52,600.20 L428.79,600.12 L429.06,600.04 L429.33,599.96 L429.60,599.88 L429.87,599.80 L430.15,599.72 L430.42,599.63 L430.69,599.55 L430.96,599.47 L431.23,599.39 L431.50,599.31 L431.77,599.22 L432.04,599.14 L432.31,599.06 L432.59,598.97 L432.86,598.89 L433.13,598.81 L433.40,598.72 L433.67,598.64 L433.94,598.55 L434.21,598.47 L434.48,598.38 L434.75,598.29 L435.03,598.21 L435.30,598.12 L435.57,598.03 L435.84,597.94 L436.11,597.85 L436.38,597.76 L436.65,597.67 L436.92,597.57 L437.19,597.48 L437.47,597.39 L437.74,597.29 L438.01,597.19 L438.28,597.10 L438.55,597.00 L438.82,596.90 L439.09,596.80 L439.36,596.70 L439.63,596.59 L439.91,596.49 L440.18,596.38 L440.45,596.28 L440.72,596.17 L440.99,596.06 L441.26,595.95 L441.53,595.83 L441.80,595.72 L442.07,595.60 L442.35,595.48 L442.62,595.36 L442.89,595.24 L443.16,595.12 L443.43,594.99 L443.70,594.86 L443.97,594.73 L444.24,594.60 L444.51,594.46 L444.79,594.33 L445.06,594.19 L445.33,594.04 L445.60,593.90 L445.87,593.75 L446.14,593.60 L446.41,593.45 L446.68,593.29 L446.95,593.13 L447.23,592.97 L447.50,592.81 L447.77,592.64 L448.04,592.47 L448.31,592.30 L448.58,592.12 L448.85,591.94 L449.12,591.76 L449.39,591.57 L449.67,591.38 L449.94,591.18 L450.21,590.98 L450.48,590.78 L450.75,590.58 L451.02,590.37 L451.29,590.15 L451.56,589.94 L451.83,589.72 L452.11,589.49 L452.38,589.26 L452.65,589.03 L452.92,588.79 L453.19,588.55 L453.46,588.30 L453.73,588.05 L454.00,587.79 L454.27,587.53 L454.55,587.27 L454.82,587.00 L455.09,586.73 L455.36,586.45 L455.63,586.17 L455.90,585.88 L456.17,585.59 L456.44,585.30 L456.71,585.00 L456.99,584.69 L457.26,584.38 L457.53,584.07 L457.80,583.75 L458.07,583.43 L458.34,583.10 L458.61,582.77 L458.88,582.43 L459.15,582.09 L459.43,581.75 L459.70,581.40 L459.97,581.05 L460.24,580.69 L460.51,580.33 L460.78,579.96 L461.05,579.59 L461.32,579.22 L461.59,578.84 L461.87,578.45 L462.14,578.07 L462.41,577.68 L462.68,577.28 L462.95,576.88 L463.22,576.48 L463.49,576.08 L463.76,575.67 L464.04,575.25 L464.31,574.84 L464.58,574.42 L464.85,574.00 L465.12,573.57 L465.39,573.14 L465.66,572.71 L465.93,572.27 L466.20,571.83 L466.48,571.39 L466.75,570.94 L467.02,570.50 L467.29,570.05 L467.56,569.59 L467.83,569.14 L468.10,568.68 L468.37,568.22 L468.64,567.75 L468.92,567.29 L469.19,566.82 L469.46,566.35 L469.73,565.87 L470.00,565.40 L470.27,564.92 L470.54,564.44 L470.81,563.96 L471.09,563.48 L471.36,562.99 L471.63,562.50 L471.90,562.02 L472.17,561.52 L472.44,561.03 L472.71,560.54 L472.98,560.04 L473.26,559.55 L473.53,559.05 L473.80,558.55 L474.07,558.05 L474.34,557.54 L474.61,557.04 L474.88,556.53 L475.15,556.03 L475.43,555.52 L475.70,555.01 L475.97,554.50 L476.24,553.99 L476.51,553.48 L476.78,552.96 L477.05,552.45 L477.33,551.93 L477.60,551.42 L477.87,550.90 L478.14,550.38 L478.41,549.87 L478.68,549.35 L478.95,548.83 L479.23,548.30 L479.50,547.78 L479.77,547.26 L480.04,546.74 L480.31,546.21 L480.58,545.69 L480.86,545.16 L481.13,544.64 L481.40,544.11 L481.67,543.59 L481.94,543.06 L482.21,542.53 L482.49,542.00 L482.76,541.47 L483.03,540.95 L483.30,540.42 L483.57,539.89 L483.84,539.36 L484.12,538.82 L484.39,538.29 L484.66,537.76 L484.93,537.23 L485.20,536.70 L485.48,536.16 L485.75,535.63 L486.02,535.10 L486.29,534.57 L486.57,534.03 L486.84,533.50 L487.11,532.96 L487.38,532.43 L487.66,531.89 L487.93,531.36 L488.20,530.82 L488.47,530.29 L488.75,529.75 L489.02,529.22 L489.29,528.68 L489.56,528.14 L489.84,527.61 L490.11,527.07 L490.38,526.53 L490.66,526.00 L490.93,525.46 L491.20,524.92 L491.48,524.38 L491.75,523.85 L492.02,523.31 L492.30,522.77 L492.57,522.23 L492.85,521.69 L493.12,521.16 L493.40,520.62 L493.67,520.08 L493.94,519.54 L494.22,519.00 L494.49,518.46 L494.77,517.92 L495.04,517.39 L495.32,516.85 L495.60,516.31 L495.87,515.77 L496.15,515.23 L496.42,514.69 L496.70,514.15 L496.98,513.61 L497.25,513.07 L497.53,512.53 L497.81,511.99 L498.08,511.45 L498.36,510.91 L498.64,510.37 L498.92,509.83 L499.20,509.29 L499.48,508.75 L499.76,508.21 L500.04,507.67 L500.32,507.13 L500.60,506.59 L500.88,506.05 L501.16,505.51 L501.44,504.97 L501.72,504.43 L502.00,503.89 L502.29,503.35 L502.57,502.81 L502.85,502.27 L503.14,501.73 L503.42,501.19 L503.71,500.65 L504.00,500.10 L504.28,499.56 L504.57,499.02 L504.86,498.48 L505.15,497.94 L505.44,497.40 L505.73,496.86 L506.02,496.32 L506.31,495.78 L506.60,495.24 L506.90,494.70 L507.19,494.16 L507.49,493.62 L507.78,493.07 L508.08,492.53 L508.38,491.99 L508.68,491.45 L508.98,490.91 L509.28,490.37 L509.59,489.83 L509.89,489.29 L510.20,488.75 L510.50,488.21 L510.81,487.66 L511.13,487.12 L511.44,486.58 L511.75,486.04 L512.07,485.50 L512.39,484.96 L512.71,484.42 L513.03,483.88 L513.35,483.34 L513.68,482.79 L514.01,482.25 L514.34,481.71 L514.67,481.17 L515.01,480.63 L515.34,480.09 L515.69,479.55 L516.03,479.01 L516.38,478.46 L516.73,477.92 L517.08,477.38 L517.44,476.84 L517.80,476.30 L518.16,475.76 L518.53,475.22 L518.90,474.68 L519.28,474.13 L519.66,473.59 L520.05,473.05 L520.44,472.51 L520.83,471.97 L521.23,471.43 L521.64,470.89 L522.05,470.35 L522.47,469.80 L522.89,469.26 L523.32,468.72 L523.75,468.18 L524.20,467.64 L524.64,467.10 L525.10,466.56 L525.57,466.02 L526.04,465.47 L526.52,464.93 L527.01,464.39 L527.51,463.85 L528.02,463.31 L528.53,462.77 L529.06,462.23 L529.60,461.69 L530.15,461.14 L530.71,460.60 L531.28,460.06 L531.87,459.52 L532.47,458.98 L533.08,458.44 L533.71,457.90 L534.35,457.36 L535.01,456.81 L535.68,456.27 L536.37,455.73 L537.07,455.19 L537.80,454.65 L538.54,454.11 L539.30,453.57 L540.09,453.02 L540.89,452.48 L541.72,451.94 L542.56,451.40 L543.44,450.86 L544.34,450.32 L545.26,449.78 L546.21,449.24 L547.19,448.69 L548.20,448.15 L549.24,447.61 L550.31,447.07 L551.41,446.53 L552.55,445.99 L553.72,445.45 L554.93,444.90 L556.18,444.36 L557.47,443.82 L558.81,443.28 L560.18,442.74 L561.61,442.20 L563.08,441.66 L564.59,441.12 L566.17,440.57 L567.79,440.03 L569.47,439.49 L571.21,438.95 L573.01,438.41 L574.87,437.87 L576.80,437.33 L578.80,436.78 L580.87,436.24 L583.01,435.70 L585.24,435.16 L587.54,434.62 L589.92,434.08 L592.40,433.54 L594.96,433.00 L597.62,432.45 L600.38,431.91 L603.24,431.37 L606.21,430.83 L609.29,430.29 L612.48,429.75 L615.80,429.21 L619.24,428.66 L622.82,428.12 L626.53,427.58 L630.38,427.04 L634.38,426.50 L638.54,425.96 L642.85,425.42 L647.33,424.88" fill="none" stroke="#1f6fdc" stroke-width="6" stroke-linejoin="round"/>
<path d="M243.15,587.99 L243.66,588.04 L244.17,588.09 L244.67,588.14 L245.18,588.19 L245.69,588.24 L246.20,588.30 L246.70,588.35 L247.21,588.40 L247.72,588.45 L248.22,588.51 L248.73,588.56 L249.24,588.61 L249.75,588.67 L250.25,588.72 L250.76,588.77 L251.27,588.83 L251.78,588.88 L252.28,588.94 L252.79,588.99 L253.30,589.05 L253.80,589.10 L254.31,589.16 L254.82,589.21 L255.33,589.27 L255.83,589.32 L256.34,589.38 L256.85,589.44 L257.36,589.49 L257.86,589.55 L258.37,589.61 L258.88,589.66 L259.38,589.72 L259.89,589.78 L260.40,589.84 L260.91,589.90 L261.41,589.96 L261.92,590.02 L262.43,590.07 L262.94,590.13 L263.44,590.19 L263.95,590.25 L264.46,590.31 L264.96,590.37 L265.47,590.44 L265.98,590.50 L266.49,590.56 L266.99,590.62 L267.50,590.68 L268.01,590.74 L268.52,590.81 L269.02,590.87 L269.53,590.93 L270.04,591.00 L270.54,591.06 L271.05,591.13 L271.56,591.19 L272.07,591.25 L272.57,591.32 L273.08,591.38 L273.59,591.45 L274.09,591.52 L274.60,591.58 L275.11,591.65 L275.62,591.72 L276.12,591.78 L276.63,591.85 L277.14,591.92 L277.65,591.99 L278.15,592.06 L278.66,592.13 L279.17,592.20 L279.67,592.27 L280.18,592.34 L280.69,592.41 L281.20,592.48 L281.70,592.55 L282.21,592.62 L282.72,592.69 L283.23,592.77 L283.73,592.84 L284.24,592.91 L284.75,592.99 L285.25,593.06 L285.76,593.13 L286.27,593.21 L286.78,593.28 L287.28,593.36 L287.79,593.44 L288.30,593.51 L288.81,593.59 L289.31,593.67 L289.82,593.75 L290.33,593.82 L290.83,593.90 L291.34,593.98 L291.85,594.06 L292.36,594.14 L292.86,594.22 L293.37,594.30 L293.88,594.39 L294.39,594.47 L294.89,594.55 L295.40,594.64 L295.91,594.72 L296.41,594.80 L296.92,594.89 L297.43,594.97 L297.94,595.06 L298.44,595.15 L298.95,595.23 L299.46,595.32 L299.97,595.41 L300.47,595.50 L300.98,595.59 L301.49,595.68 L301.99,595.77 L302.50,595.86 L303.01,595.95 L303.52,596.05 L304.02,596.14 L304.53,596.23 L305.04,596.33 L305.55,596.42 L306.05,596.52 L306.56,596.61 L307.07,596.71 L307.57,596.81 L308.08,596.91 L308.59,597.01 L309.10,597.11 L309.60,597.21 L310.11,597.31 L310.62,597.41 L311.12,597.52 L311.63,597.62 L312.14,597.73 L312.65,597.83 L313.15,597.94 L313.66,598.05 L314.17,598.16 L314.68,598.26 L315.18,598.37 L315.69,598.49 L316.20,598.60 L316.70,598.71 L317.21,598.82 L317.72,598.94 L318.23,599.06 L318.73,599.17 L319.24,599.29 L319.75,599.41 L320.26,599.53 L320.76,599.65 L321.27,599.77 L321.78,599.90 L322.28,600.02 L322.79,600.15 L323.30,600.27 L323.81,600.40 L324.31,600.53 L324.82,600.66 L325.33,600.79 L325.84,600.93 L326.34,601.06 L326.85,601.20 L327.36,601.34 L327.86,601.47 L328.37,601.61 L328.88,601.76 L329.39,601.90 L329.89,602.04 L330.40,602.19 L330.91,602.34 L331.42,602.49 L331.92,602.64 L332.43,602.79 L332.94,602.95 L333.44,603.11 L333.95,603.26 L334.46,603.42 L334.97,603.59 L335.47,603.75 L335.98,603.92 L336.49,604.09 L337.00,604.26 L337.50,604.43 L338.01,604.61 L338.52,604.78 L339.02,604.96 L339.53,605.15 L340.04,605.33 L340.55,605.52 L341.05,605.71 L341.56,605.90 L342.07,606.10 L342.58,606.30 L343.08,606.50 L343.59,606.70 L344.10,606.91 L344.60,607.12 L345.11,607.34 L345.62,607.56 L346.13,607.78 L346.63,608.00 L347.14,608.23 L347.65,608.47 L348.16,608.70 L348.66,608.95 L349.17,609.19 L349.68,609.44 L350.18,609.70 L350.69,609.96 L351.20,610.23 L351.71,610.50 L352.21,610.78 L352.72,611.06 L353.23,611.35 L353.73,611.64 L354.24,611.95 L354.75,612.26 L355.26,612.57 L355.76,612.90 L356.27,613.23 L356.78,613.57 L357.29,613.92 L357.79,614.28 L358.30,614.65 L358.81,615.03 L359.31,615.42 L359.82,615.82 L360.33,616.24 L360.84,616.66 L361.34,617.11 L361.85,617.56 L362.36,618.04 L362.87,618.53 L363.37,619.04 L363.88,619.57 L364.39,620.12 L364.89,620.70 L365.40,621.30 L365.91,621.93 L366.42,622.59 L366.92,623.29 L367.43,624.02 L367.94,624.80 L368.45,625.63 L368.95,626.51 L369.46,627.45 L369.46,627.45 L369.53,627.59 L369.61,627.74 L369.68,627.89 L369.76,628.04 L369.83,628.19 L369.91,628.34 L369.98,628.49 L370.06,628.65 L370.13,628.81 L370.21,628.97 L370.28,629.13 L370.36,629.30 L370.43,629.46 L370.51,629.63 L370.58,629.80 L370.65,629.97 L370.73,630.15 L370.80,630.32 L370.88,630.50 L370.95,630.69 L371.03,630.87 L371.10,631.06 L371.18,631.25 L371.25,631.44 L371.33,631.63 L371.40,631.83 L371.48,632.03 L371.55,632.24 L371.63,632.44 L371.70,632.65 L371.77,632.87 L371.85,633.09 L371.92,633.31 L372.00,633.53 L372.07,633.76 L372.15,633.99 L372.22,634.23 L372.30,634.47 L372.37,634.72 L372.45,634.96 L372.52,635.22 L372.60,635.48 L372.67,635.74 L372.75,636.01 L372.82,636.29 L372.89,636.57 L372.97,636.86 L373.04,637.15 L373.12,637.45 L373.19,637.76 L373.27,638.08 L373.34,638.40 L373.42,638.73 L373.49,639.07 L373.57,639.41 L373.64,639.77 L373.72,640.14 L373.79,640.51 L373.87,640.90 L373.94,641.30 L374.01,641.71 L374.09,642.14 L374.16,642.58 L374.24,643.03 L374.31,643.50 L374.39,643.99 L374.46,644.49 L374.54,645.02 L374.61,645.56 L374.69,646.13 L374.76,646.73 L374.84,647.35 L374.91,648.00 L374.99,648.69 L375.06,649.42 L375.13,650.18 L375.21,650.99 L375.28,651.86 L375.36,652.78" fill="none" stroke="#000" stroke-width="6.3" stroke-linecap="round" stroke-dasharray="8.2 21.2"/>
<path d="M377.44,652.78 L377.52,651.86 L377.59,650.99 L377.67,650.18 L377.74,649.42 L377.81,648.69 L377.89,648.00 L377.96,647.35 L378.04,646.73 L378.11,646.13 L378.19,645.56 L378.26,645.02 L378.34,644.49 L378.41,643.99 L378.49,643.50 L378.56,643.03 L378.64,642.58 L378.71,642.14 L378.79,641.71 L378.86,641.30 L378.93,640.90 L379.01,640.51 L379.08,640.14 L379.16,639.77 L379.23,639.41 L379.31,639.07 L379.38,638.73 L379.46,638.40 L379.53,638.08 L379.61,637.76 L379.68,637.45 L379.76,637.15 L379.83,636.86 L379.91,636.57 L379.98,636.29 L380.05,636.01 L380.13,635.74 L380.20,635.48 L380.28,635.22 L380.35,634.96 L380.43,634.72 L380.50,634.47 L380.58,634.23 L380.65,633.99 L380.73,633.76 L380.80,633.53 L380.88,633.31 L380.95,633.09 L381.03,632.87 L381.10,632.65 L381.17,632.44 L381.25,632.24 L381.32,632.03 L381.40,631.83 L381.47,631.63 L381.55,631.44 L381.62,631.25 L381.70,631.06 L381.77,630.87 L381.85,630.69 L381.92,630.50 L382.00,630.32 L382.07,630.15 L382.15,629.97 L382.22,629.80 L382.29,629.63 L382.37,629.46 L382.44,629.30 L382.52,629.13 L382.59,628.97 L382.67,628.81 L382.74,628.65 L382.82,628.49 L382.89,628.34 L382.97,628.19 L383.04,628.04 L383.12,627.89 L383.19,627.74 L383.27,627.59 L383.34,627.45 L383.34,627.45 L384.00,626.23 L384.67,625.11 L385.33,624.08 L386.00,623.12 L386.66,622.23 L387.33,621.39 L387.99,620.60 L388.66,619.85 L389.32,619.15 L389.98,618.48 L390.65,617.84 L391.31,617.23 L391.98,616.65 L392.64,616.09 L393.31,615.56 L393.97,615.04 L394.64,614.55 L395.30,614.07 L395.96,613.61 L396.63,613.16 L397.29,612.73 L397.96,612.31 L398.62,611.91 L399.29,611.51 L399.95,611.13 L400.62,610.76 L401.28,610.40 L401.94,610.05 L402.61,609.70 L403.27,609.37 L403.94,609.04 L404.60,608.72 L405.27,608.41 L405.93,608.11 L406.60,607.81 L407.26,607.52 L407.92,607.24 L408.59,606.96 L409.25,606.69 L409.92,606.42 L410.58,606.16 L411.25,605.90 L411.91,605.65 L412.57,605.40 L413.24,605.16 L413.90,604.92 L414.57,604.68 L415.23,604.45 L415.90,604.23 L416.56,604.00 L417.23,603.78 L417.89,603.57 L418.55,603.36 L419.22,603.15 L419.88,602.94 L420.55,602.74 L421.21,602.54 L421.88,602.34 L422.54,602.15 L423.21,601.96 L423.87,601.77 L424.53,601.59 L425.20,601.40 L425.86,601.22 L426.53,601.04 L427.19,600.87 L427.86,600.69 L428.52,600.52 L429.19,600.35 L429.85,600.19 L430.51,600.02 L431.18,599.86 L431.84,599.70 L432.51,599.54 L433.17,599.38 L433.84,599.23 L434.50,599.07 L435.17,598.92 L435.83,598.77 L436.49,598.62 L437.16,598.47 L437.82,598.33 L438.49,598.19 L439.15,598.04 L439.82,597.90 L440.48,597.76 L441.15,597.63 L441.81,597.49 L442.47,597.35 L443.14,597.22 L443.80,597.09 L444.47,596.96 L445.13,596.83 L445.80,596.70 L446.46,596.57 L447.13,596.45 L447.79,596.32 L448.45,596.20 L449.12,596.08 L449.78,595.95 L450.45,595.83 L451.11,595.71 L451.78,595.60 L452.44,595.48 L453.11,595.36 L453.77,595.25 L454.43,595.13 L455.10,595.02 L455.76,594.91 L456.43,594.80 L457.09,594.69 L457.76,594.58 L458.42,594.47 L459.09,594.36 L459.75,594.25 L460.41,594.15 L461.08,594.04 L461.74,593.94 L462.41,593.83 L463.07,593.73 L463.74,593.63 L464.40,593.53 L465.07,593.43 L465.73,593.33 L466.39,593.23 L467.06,593.13 L467.72,593.03 L468.39,592.94 L469.05,592.84 L469.72,592.74 L470.38,592.65 L471.04,592.56 L471.71,592.46 L472.37,592.37 L473.04,592.28 L473.70,592.19 L474.37,592.10 L475.03,592.00 L475.70,591.92 L476.36,591.83 L477.02,591.74 L477.69,591.65 L478.35,591.56 L479.02,591.48 L479.68,591.39 L480.35,591.30 L481.01,591.22 L481.68,591.13 L482.34,591.05 L483.00,590.97 L483.67,590.88 L484.33,590.80 L485.00,590.72 L485.66,590.64 L486.33,590.56 L486.99,590.48 L487.66,590.40 L488.32,590.32 L488.98,590.24 L489.65,590.16 L490.31,590.08 L490.98,590.00 L491.64,589.93 L492.31,589.85 L492.97,589.77 L493.64,589.70 L494.30,589.62 L494.96,589.55 L495.63,589.47 L496.29,589.40 L496.96,589.32 L497.62,589.25 L498.29,589.18 L498.95,589.11 L499.62,589.03 L500.28,588.96 L500.94,588.89 L501.61,588.82 L502.27,588.75 L502.94,588.68 L503.60,588.61 L504.27,588.54 L504.93,588.47 L505.60,588.40 L506.26,588.33 L506.92,588.26 L507.59,588.20 L508.25,588.13 L508.92,588.06 L509.58,587.99 L510.25,587.93 L510.91,587.86 L511.58,587.80 L512.24,587.73 L512.90,587.67 L513.57,587.60 L514.23,587.54 L514.90,587.47 L515.56,587.41 L516.23,587.34 L516.89,587.28 L517.56,587.22 L518.22,587.16 L518.88,587.09 L519.55,587.03 L520.21,586.97 L520.88,586.91 L521.54,586.85 L522.21,586.78 L522.87,586.72 L523.53,586.66 L524.20,586.60 L524.86,586.54 L525.53,586.48 L526.19,586.42 L526.86,586.37 L527.52,586.31 L528.19,586.25 L528.85,586.19 L529.51,586.13 L530.18,586.07 L530.84,586.02 L531.51,585.96 L532.17,585.90 L532.84,585.85 L533.50,585.79 L534.17,585.73 L534.83,585.68 L535.49,585.62 L536.16,585.56 L536.82,585.51 L537.49,585.45 L538.15,585.40 L538.82,585.34 L539.48,585.29 L540.15,585.24 L540.81,585.18 L541.47,585.13 L542.14,585.07 L542.80,585.02 L543.47,584.97 L544.13,584.91 L544.80,584.86 L545.46,584.81 L546.13,584.76 L546.79,584.70 L547.45,584.65 L548.12,584.60 L548.78,584.55 L549.45,584.50 L550.11,584.45 L550.78,584.40 L551.44,584.34 L552.11,584.29 L552.77,584.24 L553.43,584.19 L554.10,584.14 L554.76,584.09 L555.43,584.04 L556.09,583.99 L556.76,583.94 L557.42,583.90 L558.09,583.85 L558.75,583.80 L559.41,583.75 L560.08,583.70 L560.74,583.65 L561.41,583.60 L562.07,583.56 L562.74,583.51 L563.40,583.46 L564.07,583.41 L564.73,583.37 L565.39,583.32 L566.06,583.27 L566.72,583.23 L567.39,583.18 L568.05,583.13 L568.72,583.09 L569.38,583.04 L570.05,583.00 L570.71,582.95 L571.37,582.90 L572.04,582.86 L572.70,582.81 L573.37,582.77 L574.03,582.72 L574.70,582.68 L575.36,582.63 L576.03,582.59 L576.69,582.54 L577.35,582.50 L578.02,582.46 L578.68,582.41 L579.35,582.37 L580.01,582.33 L580.68,582.28 L581.34,582.24 L582.00,582.20 L582.67,582.15 L583.33,582.11 L584.00,582.07 L584.66,582.02 L585.33,581.98 L585.99,581.94 L586.66,581.90 L587.32,581.85 L587.98,581.81 L588.65,581.77 L589.31,581.73 L589.98,581.69 L590.64,581.65 L591.31,581.60 L591.97,581.56 L592.64,581.52 L593.30,581.48 L593.96,581.44 L594.63,581.40 L595.29,581.36 L595.96,581.32 L596.62,581.28 L597.29,581.24 L597.95,581.20 L598.62,581.16 L599.28,581.12 L599.94,581.08 L600.61,581.04 L601.27,581.00 L601.94,580.96 L602.60,580.92 L603.27,580.88 L603.93,580.84 L604.60,580.80 L605.26,580.76 L605.92,580.73 L606.59,580.69 L607.25,580.65 L607.92,580.61 L608.58,580.57 L609.25,580.53 L609.91,580.50 L610.58,580.46 L611.24,580.42 L611.90,580.38 L612.57,580.34 L613.23,580.31 L613.90,580.27 L614.56,580.23 L615.23,580.19 L615.89,580.16 L616.56,580.12 L617.22,580.08 L617.88,580.05 L618.55,580.01 L619.21,579.97 L619.88,579.94 L620.54,579.90 L621.21,579.86 L621.87,579.83 L622.54,579.79 L623.20,579.76 L623.86,579.72 L624.53,579.68 L625.19,579.65 L625.86,579.61 L626.52,579.58 L627.19,579.54 L627.85,579.51 L628.52,579.47 L629.18,579.44 L629.84,579.40 L630.51,579.37 L631.17,579.33 L631.84,579.30 L632.50,579.26 L633.17,579.23 L633.83,579.19 L634.49,579.16 L635.16,579.12 L635.82,579.09 L636.49,579.06 L637.15,579.02 L637.82,578.99 L638.48,578.95 L639.15,578.92 L639.81,578.89 L640.47,578.85 L641.14,578.82 L641.80,578.79 L642.47,578.75 L643.13,578.72 L643.80,578.69 L644.46,578.65 L645.13,578.62 L645.79,578.59 L646.45,578.55 L647.12,578.52 L647.78,578.49 L648.45,578.46" fill="none" stroke="#000" stroke-width="6.3" stroke-linecap="round" stroke-dasharray="8.2 21.2" stroke-dashoffset="26.81"/>
<line x1="538.73" y1="430.02" x2="418.92" y2="669.24" stroke="#ff0000" stroke-width="5.5" stroke-linecap="round" stroke-dasharray="5.9 17.5"/>
</g>
<rect x="244.9" y="421.7" width="401.8" height="246.4" fill="none" stroke="#222" stroke-width="1.2"/>
<text x="233.5" y="431.20" font-size="23" text-anchor="end">10<tspan dy="-11.9" font-size="14.5">−2</tspan></text>
<line x1="244.9" y1="483.20" x2="253.6" y2="483.20" stroke="#555" stroke-width="1.2"/>
<text x="233.5" y="492.70" font-size="23" text-anchor="end">10<tspan dy="-11.9" font-size="14.5">−4</tspan></text>
<line x1="244.9" y1="544.70" x2="253.6" y2="544.70" stroke="#555" stroke-width="1.2"/>
<text x="233.5" y="554.20" font-size="23" text-anchor="end">10<tspan dy="-11.9" font-size="14.5">−6</tspan></text>
<line x1="244.9" y1="606.20" x2="253.6" y2="606.20" stroke="#555" stroke-width="1.2"/>
<text x="233.5" y="615.70" font-size="23" text-anchor="end">10<tspan dy="-11.9" font-size="14.5">−8</tspan></text>
<text x="233.5" y="677.20" font-size="23" text-anchor="end">10<tspan dy="-11.9" font-size="14.5">−10</tspan></text>
<text x="307.20" y="698.3" font-size="23" text-anchor="middle" >−0.5</text>
<text x="376.60" y="698.3" font-size="23" text-anchor="middle" >0</text>
<text x="446.00" y="698.3" font-size="23" text-anchor="middle" >0.5</text>
<text x="515.40" y="698.3" font-size="23" text-anchor="middle" >1.0</text>
<text x="584.80" y="698.3" font-size="23" text-anchor="middle" >1.5</text>
<text x="376" y="739" font-size="27.5" textLength="142.5" lengthAdjust="spacing">Voltage (V)</text>
<text transform="translate(157.2,705) rotate(-90)" font-size="27" letter-spacing="0.45">|Current density|<tspan x="215.5" letter-spacing="1.1">(A cm</tspan><tspan dy="-10" font-size="18">−2</tspan><tspan dy="10">)</tspan></text>
<text x="362" y="509" font-size="20" fill="#ff0000"><tspan font-style="italic">J</tspan><tspan dy="8" font-size="15" letter-spacing="0.6">diode</tspan></text>
<text x="551" y="515" font-size="20" fill="#000"><tspan font-style="italic">J</tspan><tspan dy="8" font-size="15">shunt</tspan></text>
<line x1="419.5" y1="523.3" x2="462.61" y2="535.78" stroke="#ff0000" stroke-width="4.0"/>
<path d="M472.7,538.7 L455.33,541.17 L462.13,535.64 L459.33,527.34 Z" fill="#ff0000"/>
<line x1="575.5" y1="533.6" x2="575.50" y2="566.30" stroke="#000" stroke-width="3.8"/>
<path d="M575.5,577.8 L568.30,561.30 L575.50,565.80 L582.70,561.30 Z" fill="#000"/>
<path d="M753.00,815.60 L788.00,815.60 L770.50,787.40 Z" fill="#fff" stroke="#1f77b4" stroke-width="3.8" stroke-linejoin="round"/>
<rect x="756.40" y="840.50" width="28.20" height="28.20" fill="#fff" stroke="#673d9b" stroke-width="3.8" stroke-linejoin="round"/>
<path d="M753.00,893.20 L788.00,893.20 L770.50,921.60 Z" fill="#fff" stroke="#ff7f0e" stroke-width="3.8" stroke-linejoin="round"/>
<circle cx="770.50" cy="950.40" r="13.5" fill="#fff" stroke="#000" stroke-width="5.0"/>
<path d="M770.50,975.00 L775.60,990.69 L792.09,990.69 L778.75,1000.38 L783.84,1016.06 L770.50,1006.37 L757.16,1016.06 L762.25,1000.38 L748.91,990.69 L765.40,990.69 Z" fill="#fff" stroke="#808080" stroke-width="3.6" stroke-linejoin="round"/>
<text x="800.6" y="814.3" font-size="23" letter-spacing="-0.36">PTTQ(HD)</text>
<text x="800.6" y="863.3" font-size="23" letter-spacing="-0.68">PTTBAI</text>
<text x="800.6" y="910.2" font-size="23" letter-spacing="-0.37">PBTQ(OD)</text>
<text x="801.4" y="959.7" font-size="23" letter-spacing="0.61">Wide-gap</text>
<text x="800.8" y="1005" font-size="23" letter-spacing="0.87">Literature</text>
<text y="1316.7" font-size="23" fill="#ff0000"><tspan x="480.3" font-style="italic">E</tspan><tspan x="494" dy="8" font-size="14">a</tspan><tspan x="508.3" dy="-8" font-size="21">=</tspan><tspan x="525.6" font-style="italic">E</tspan><tspan x="538.3" dy="8" font-size="14" letter-spacing="0.4">CT</tspan><tspan x="557" dy="-8">/</tspan><tspan x="565.7">2</tspan></text>
<line x1="579.6" y1="1284.4" x2="663.25" y2="1209.09" stroke="#ff0000" stroke-width="4.1"/>
<path d="M671.8,1201.4 L664.05,1218.20 L662.88,1209.43 L654.28,1207.35 Z" fill="#ff0000"/>
</svg>
</body></html>
